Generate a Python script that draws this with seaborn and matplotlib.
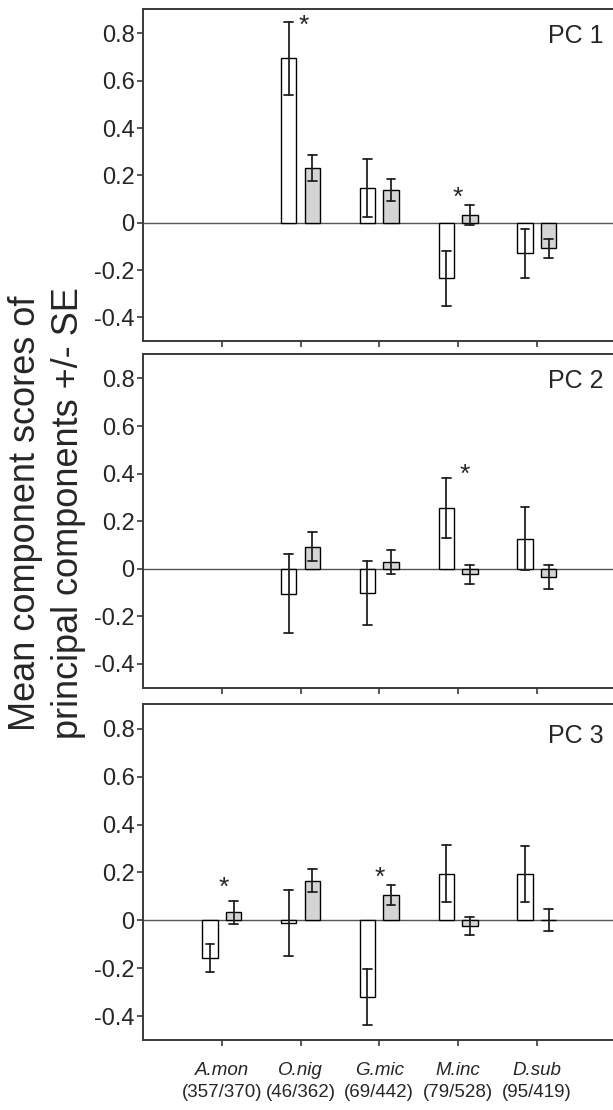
import numpy as np
import pandas as pd
import matplotlib
matplotlib.use('Agg')
import matplotlib.pyplot as plt
import seaborn as sns

# species on the x axis and the sample sizes shown under them
species = ['A.mon', 'O.nig', 'G.mic', 'M.inc', 'D.sub']
counts = ['(357/370)', '(46/362)', '(69/442)', '(79/528)', '(95/419)']
groups = ['open', 'shaded']

# mean component scores (white bars = 'open', grey bars = 'shaded'), nan = no bar
pc1_open = [np.nan, 0.694, 0.146, -0.235, -0.130]
pc1_open_se = [np.nan, 0.156, 0.124, 0.117, 0.104]
pc1_shaded = [np.nan, 0.230, 0.137, 0.032, -0.108]
pc1_shaded_se = [np.nan, 0.056, 0.047, 0.043, 0.041]

pc2_open = [np.nan, -0.104, -0.101, 0.255, 0.127]
pc2_open_se = [np.nan, 0.167, 0.134, 0.125, 0.134]
pc2_shaded = [np.nan, 0.093, 0.028, -0.023, -0.034]
pc2_shaded_se = [np.nan, 0.060, 0.050, 0.041, 0.050]

pc3_open = [-0.158, -0.011, -0.321, 0.194, 0.194]
pc3_open_se = [0.057, 0.137, 0.116, 0.119, 0.117]
pc3_shaded = [0.034, 0.166, 0.106, -0.024, 0.002]
pc3_shaded_se = [0.048, 0.048, 0.042, 0.038, 0.047]

# significance stars: (species position, y)
pc1_stars = [(1.04, 0.83), (3.0, 0.105)]
pc2_stars = [(3.09, 0.395)]
pc3_stars = [(0.025, 0.137), (2.0, 0.177)]

panels = [
    ('PC 1', pc1_open, pc1_open_se, pc1_shaded, pc1_shaded_se, pc1_stars),
    ('PC 2', pc2_open, pc2_open_se, pc2_shaded, pc2_shaded_se, pc2_stars),
    ('PC 3', pc3_open, pc3_open_se, pc3_shaded, pc3_shaded_se, pc3_stars),
]


def long_table(m_open, se_open, m_shaded, se_shaded):
    # two rows per bar (mean - se, mean + se) so the mean is the bar
    # and min/max gives the +/- SE whisker
    rows = []
    for grp, means, ses in [('open', m_open, se_open), ('shaded', m_shaded, se_shaded)]:
        for sp, m, s in zip(species, means, ses):
            if np.isnan(m):
                continue
            rows.append({'species': sp, 'group': grp, 'score': m - s})
            rows.append({'species': sp, 'group': grp, 'score': m + s})
    return pd.DataFrame(rows)


sns.set_style('ticks')
plt.rcParams['font.family'] = ['Liberation Sans', 'DejaVu Sans']

fig = plt.figure(figsize=(6.13, 11.1), dpi=100)
ax_boxes = [
    [0.2333, 0.6928, 0.7708, 0.2991],
    [0.2333, 0.3804, 0.7708, 0.3007],
    [0.2333, 0.0631, 0.7708, 0.3024],
]
spine_col = '#3a3a3a'

for i, (name, mo, so, ms, ss, stars) in enumerate(panels):
    ax = fig.add_axes(ax_boxes[i])
    df = long_table(mo, so, ms, ss)
    sns.barplot(data=df, x='species', y='score', hue='group',
                order=species, hue_order=groups,
                palette={'open': 'white', 'shaded': '#d4d4d4'},
                edgecolor='black', linewidth=1.0,
                width=0.6, gap=0.35,
                errorbar=lambda v: (v.min(), v.max()),
                capsize=0.22, err_kws={'color': '#222222', 'linewidth': 1.3},
                legend=False, ax=ax)
    ax.axhline(0, color='#555555', lw=1.0, zorder=0.5)
    ax.set_xlim(-1, 5)
    ax.set_ylim(-0.5, 0.903)
    ax.set_yticks([-0.4, -0.2, 0, 0.2, 0.4, 0.6, 0.8])
    ax.set_yticklabels(['-0.4', '-0.2', '0', '0.2', '0.4', '0.6', '0.8'])
    ax.set_xlabel('')
    ax.set_ylabel('')
    for sp in ax.spines.values():
        sp.set_color(spine_col)
        sp.set_linewidth(1.4)
    ax.tick_params(axis='both', length=4, width=1.2, color=spine_col,
                   labelsize=17, pad=2)
    ax.set_xticks(range(len(species)))
    if i == 2:
        ax.set_xticklabels(species, fontsize=13.5, style='italic')
        ax.tick_params(axis='x', pad=12)
        sec = ax.secondary_xaxis('bottom')
        sec.set_xticks(range(len(species)), counts, fontsize=13.5)
        sec.tick_params(length=0, pad=32)
        sec.spines['bottom'].set_visible(False)
    else:
        ax.set_xticklabels([])
    ax.text(0.974, 0.955 if i < 2 else 0.94, name, transform=ax.transAxes,
            ha='right', va='top', fontsize=18)
    for sx, sy in stars:
        ax.text(sx, sy, '*', ha='center', va='center', fontsize=19)

fig.text(0.077, 0.538, 'Mean component scores of\nprincipal components +/- SE',
         rotation=90, ha='center', va='center', fontsize=26, linespacing=1.3)

fig.savefig('out.png', dpi=100)
